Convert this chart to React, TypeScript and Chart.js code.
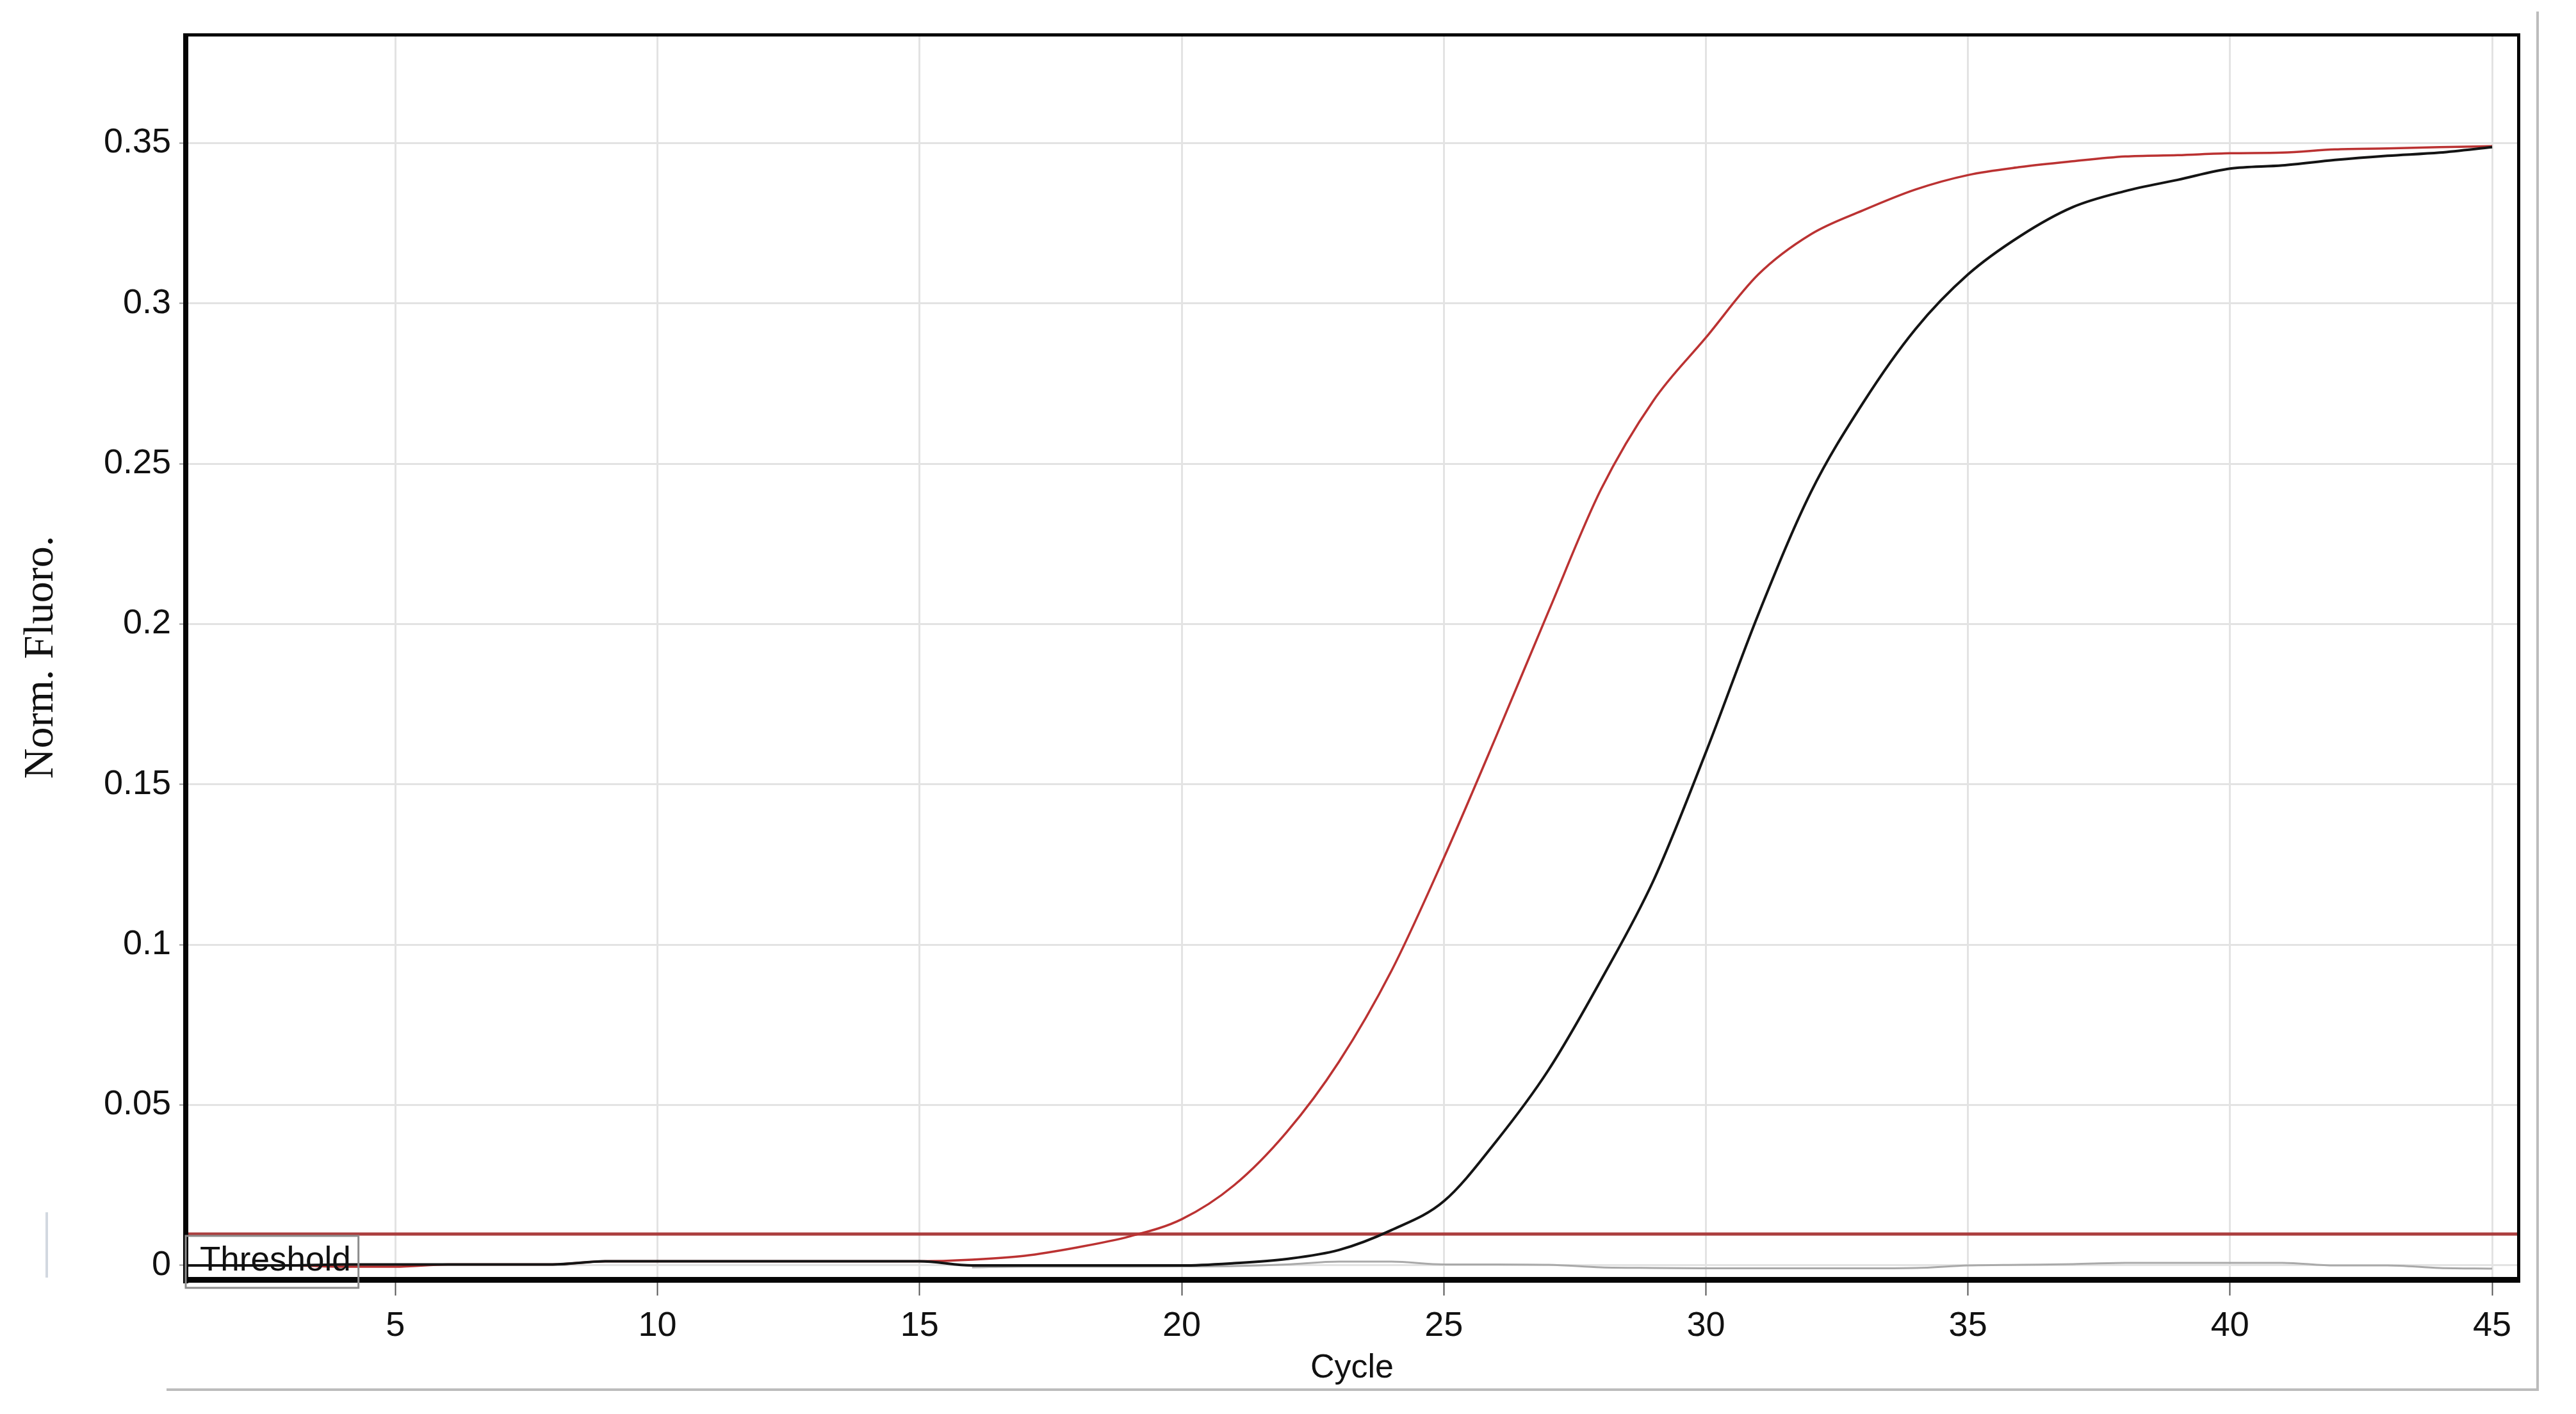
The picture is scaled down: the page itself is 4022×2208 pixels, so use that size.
import React, { useEffect, useRef } from 'react';
import { Chart, registerables } from 'chart.js';

Chart.register(...registerables);

// ---- data ----
const CYCLES = [
  1, 2, 3, 4, 5, 6, 7, 8, 9, 10, 11, 12, 13, 14, 15, 16, 17, 18, 19, 20, 21, 22, 23,
  24, 25, 26, 27, 28, 29, 30, 31, 32, 33, 34, 35, 36, 37, 38, 39, 40, 41, 42, 43, 44, 45,
];

const RED_SERIES = [
  0.0, 0.0, 0.0, -0.0004, -0.0004, 0.0003, 0.0003, 0.0003, 0.0013, 0.0013,
  0.0013, 0.0013, 0.0013, 0.0013, 0.0013, 0.0018, 0.003, 0.0056, 0.009, 0.0144,
  0.025, 0.0415, 0.0635, 0.0918, 0.127, 0.165, 0.204, 0.242, 0.2697, 0.2893,
  0.309, 0.3215, 0.329, 0.3355, 0.34, 0.3425, 0.3443, 0.3458, 0.3462, 0.3468,
  0.347, 0.348, 0.3483, 0.3487, 0.349,
];

const BLACK_SERIES = [
  0.0, 0.0, 0.0, 0.0003, 0.0003, 0.0003, 0.0003, 0.0003, 0.0013, 0.0013,
  0.0013, 0.0013, 0.0013, 0.0013, 0.0013, 0.0, 0.0, 0.0, 0.0, 0.0,
  0.0007, 0.002, 0.0048, 0.011, 0.02, 0.0387, 0.061, 0.089, 0.12, 0.16,
  0.203, 0.241, 0.269, 0.292, 0.309, 0.321, 0.33, 0.335, 0.3385, 0.342,
  0.343, 0.3447, 0.346, 0.347, 0.3487,
];

const GRAY_SERIES: (number | null)[] = [
  null, null, null, null, null, null, null, null, null, null,
  null, null, null, null, null, -0.0006, -0.0004, -0.0004, -0.0004, -0.0003,
  -0.0002, 0.0003, 0.0012, 0.0012, 0.0003, 0.0003, 0.0002, -0.0006, -0.0008, -0.0009,
  -0.0009, -0.0009, -0.0009, -0.0008, 0.0, 0.0002, 0.0004, 0.0008, 0.0008, 0.0008,
  0.0008, 0.0, 0.0, -0.0008, -0.001,
];

const THRESHOLD = 0.0098;
const THRESHOLD_LABEL = 'Threshold';

const X_TICKS = [5, 10, 15, 20, 25, 30, 35, 40, 45];
const Y_TICKS = [0, 0.05, 0.1, 0.15, 0.2, 0.25, 0.3, 0.35];
const X_RANGE = [1, 45.5];
const Y_RANGE = [-0.0044, 0.3836];

const X_TITLE = 'Cycle';
const Y_TITLE = 'Norm. Fluoro.';

const SANS = '"Liberation Sans", Arial, sans-serif';
const SERIF = '"Liberation Serif", "Times New Roman", serif';

const toPoints = (vals: (number | null)[]) =>
  CYCLES.map((c, i) => ({ x: c, y: vals[i] }));

const decorPlugin = {
  id: 'decor',
  afterDraw(chart: any) {
    const { ctx, chartArea: a, scales } = chart;
    ctx.save();
    // outer light frame (screenshot window edge)
    ctx.strokeStyle = '#bcbcbc';
    ctx.lineWidth = 4;
    ctx.beginPath();
    ctx.moveTo(260, 2170);
    ctx.lineTo(3962, 2170);
    ctx.lineTo(3962, 18);
    ctx.stroke();
    ctx.strokeStyle = '#d2d8e0';
    ctx.lineWidth = 4;
    ctx.beginPath();
    ctx.moveTo(73, 1893);
    ctx.lineTo(73, 1995);
    ctx.stroke();

    // plot frame
    ctx.fillStyle = '#050505';
    ctx.fillRect(a.left - 4, a.top - 3, a.right - a.left + 7, 5); // top
    ctx.fillRect(a.right - 2, a.top - 3, 5, a.bottom - a.top + 8); // right
    ctx.fillRect(a.left - 4, a.top - 3, 8, a.bottom - a.top + 9); // left
    ctx.fillRect(a.left - 4, a.bottom - 4, a.right - a.left + 7, 9); // bottom

    // threshold label box
    const thrY = scales.y.getPixelForValue(THRESHOLD);
    ctx.font = `53px ${SANS}`;
    const tw = ctx.measureText(THRESHOLD_LABEL).width;
    const boxL = a.left;
    const boxT = thrY + 3;
    const boxR = a.left + 22 + tw + 12;
    const boxB = a.bottom + 13;
    ctx.strokeStyle = '#8c8c8c';
    ctx.lineWidth = 3;
    ctx.strokeRect(boxL, boxT, boxR - boxL, boxB - boxT);
    ctx.fillStyle = '#111111';
    ctx.textBaseline = 'middle';
    ctx.textAlign = 'left';
    ctx.fillText(THRESHOLD_LABEL, a.left + 22, (thrY + a.bottom) / 2 + 7);
    ctx.restore();
  },
};

export default function App() {
  const ref = useRef<HTMLCanvasElement>(null);

  useEffect(() => {
    const canvas = ref.current;
    if (!canvas) return;
    const chart = new Chart(canvas, {
      type: 'line',
      data: {
        datasets: [
          {
            label: 'Sample 2',
            data: toPoints(BLACK_SERIES),
            borderColor: '#141414',
            borderWidth: 4,
            pointRadius: 0,
            cubicInterpolationMode: 'monotone',
            order: 0,
          },
          {
            label: 'Sample 1',
            data: toPoints(RED_SERIES),
            borderColor: '#bb3232',
            borderWidth: 3.5,
            pointRadius: 0,
            cubicInterpolationMode: 'monotone',
            order: 1,
          },
          {
            label: 'Control',
            data: toPoints(GRAY_SERIES),
            borderColor: '#a9a9a9',
            borderWidth: 3,
            pointRadius: 0,
            cubicInterpolationMode: 'monotone',
            spanGaps: false,
            order: 2,
          },
          {
            label: 'Threshold',
            data: [
              { x: X_RANGE[0], y: THRESHOLD },
              { x: X_RANGE[1], y: THRESHOLD },
            ],
            borderColor: '#ab3e3e',
            borderWidth: 5,
            pointRadius: 0,
            order: 3,
          },
        ],
      },
      options: {
        animation: false,
        responsive: false,
        devicePixelRatio: 1,
        events: [],
        layout: { padding: { left: 0, right: 90, top: 55, bottom: 0 } },
        plugins: {
          legend: { display: false },
          tooltip: { enabled: false },
        },
        scales: {
          x: {
            type: 'linear',
            min: X_RANGE[0],
            max: X_RANGE[1],
            afterBuildTicks: (s: any) => {
              s.ticks = X_TICKS.map((v) => ({ value: v }));
            },
            afterFit: (s: any) => {
              s.height = 210;
            },
            border: { display: false },
            grid: {
              color: '#e3e3e3',
              lineWidth: 3,
              drawTicks: true,
              tickLength: 25,
              tickColor: '#555555',
              tickWidth: 2,
            },
            ticks: {
              autoSkip: false,
              maxRotation: 0,
              padding: 16,
              color: '#111111',
              font: { family: SANS, size: 54 },
              callback: (v: any) => String(v),
            },
            title: {
              display: true,
              text: X_TITLE,
              color: '#111111',
              font: { family: SANS, size: 52 },
              padding: { top: 0, bottom: 40 },
            },
          },
          y: {
            type: 'linear',
            min: Y_RANGE[0],
            max: Y_RANGE[1],
            afterBuildTicks: (s: any) => {
              s.ticks = Y_TICKS.map((v) => ({ value: v }));
            },
            afterFit: (s: any) => {
              s.width = 290;
            },
            border: { display: false },
            grid: {
              color: '#e3e3e3',
              lineWidth: 3,
              drawTicks: true,
              tickLength: 10,
              tickColor: '#999999',
              tickWidth: 2,
            },
            ticks: {
              autoSkip: false,
              padding: 13,
              color: '#111111',
              font: { family: SANS, size: 54 },
              callback: (v: any) => String(v),
            },
            title: {
              display: true,
              text: Y_TITLE,
              color: '#111111',
              font: { family: SERIF, size: 66 },
              padding: { top: 25, bottom: 0 },
            },
          },
        },
      },
      plugins: [decorPlugin],
    } as any);
    return () => chart.destroy();
  }, []);

  return (
    <div
      style={{
        position: 'fixed',
        left: 0,
        top: 0,
        width: 4022,
        height: 2208,
        background: '#ffffff',
      }}
    >
      <canvas
        ref={ref}
        width={4022}
        height={2208}
        style={{ display: 'block', width: 4022, height: 2208 }}
      />
    </div>
  );
}
